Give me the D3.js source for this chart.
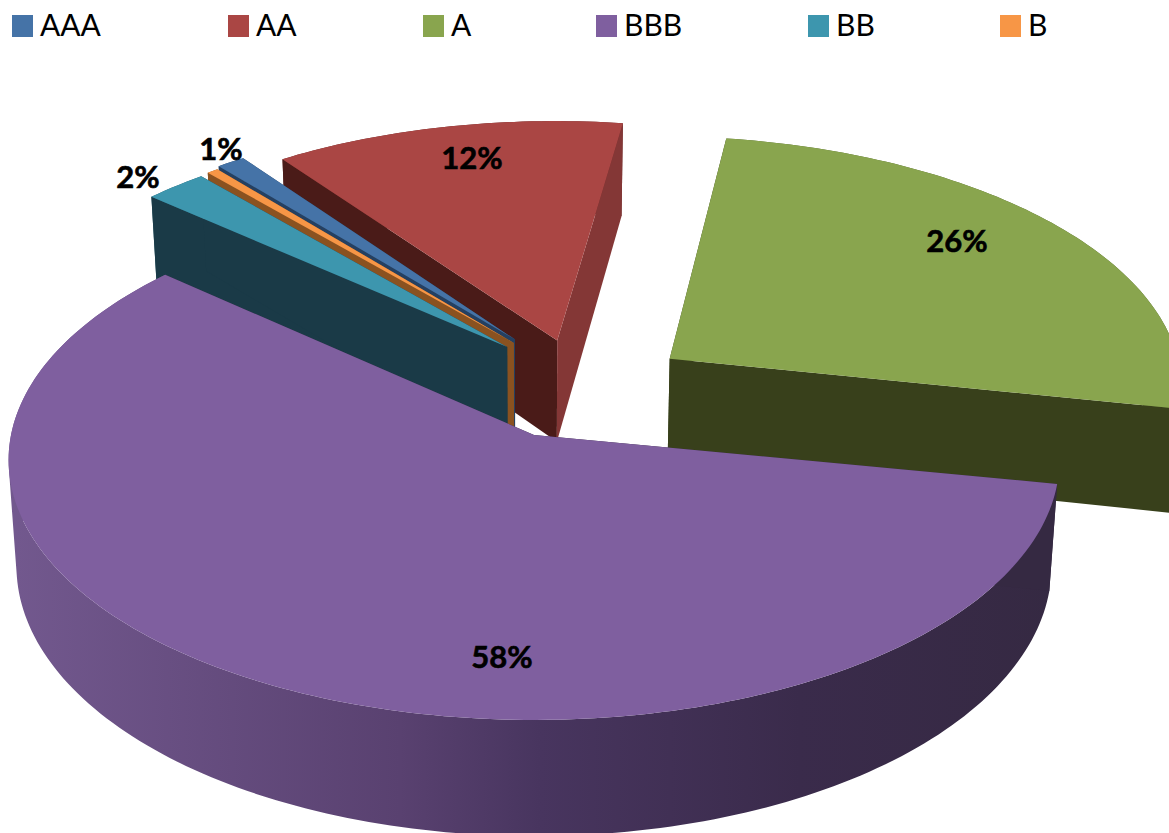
<!DOCTYPE html>
<html>
<head>
<meta charset="utf-8">
<script src="https://cdn.jsdelivr.net/npm/d3@7"></script>
<style>
	html, body { margin: 0; padding: 0; background: #fff; overflow: hidden; }
	text { font-family: Lato, sans-serif; }
</style>
</head>
<body>
<div id="chart"></div>
<script>
// ********** DATA **********
const ratings = ['AAA', 'AA', 'A', 'BBB', 'BB', 'B'];
const shares = [1, 12.2, 25.6, 58.4, 2.2, 0.4];
const shareLabels = ['1%', '12%', '26%', '58%', '2%', null];

// ********** STYLE / LAYOUT **********
const width = 1169, height = 833;
const topColors = ['#4573a7', '#aa4644', '#89a54e', '#7f5f9f', '#3d96ae', '#f79646'];
const startWallColors = ['#254061', '#4a1b18', '#38401b', '#352942', '#1a3a47', '#8a5220'];
const endWallColors = ['#254061', '#843736', '#38401b', '#352942', '#1a3a47', '#8a5220'];

// offset of each slice from the pie centre, in pie radii
const explodeU = [-0.038, 0.046, 0.267, 0, -0.053, -0.04];
const explodeV = [-0.385, -0.38, -0.305, 0, -0.353, -0.37];
// extra degrees on the far edge, the original perspective drops the A edge lower
const endNudge = [0, 0, 0.9, 0, 0, 0];

const legendSwatchX = [12, 228, 423, 596, 808, 1000];
const labelX = [221, 472, 957, 502, 138, 0];
const labelY = [160, 169, 252, 668, 188, 0];

// Painters order, back to front
const drawOrder = [1, 2, 0, 5, 4, 3];

// Projection of the pie plane onto the screen, with slight perspective
const cx = 534, cy = 435, rx = 523, ry = 257.6, persp = 0.096, depth = 105, squeeze = 0.985;

const project = (u, v, low) => {
	const w = 1 / (1 - persp * v);
	const x = rx * u * w;
	const y = ry * v * w;
	return low ? [cx + x * squeeze, cy + y + depth * w] : [cx + x, cy + y];
};

const svg = d3.select('#chart').append('svg')
	.attr('width', width)
	.attr('height', height);

// Shading of the BBB rim follows the screen position
const rimStops = [0, 400, 540, 800, 1060];
const rimColor = d3.scaleLinear()
	.domain(rimStops)
	.range(['#73598f', '#594170', '#48355f', '#3a2b4b', '#352942']);

svg.append('defs').append('linearGradient')
	.attr('id', 'rimShade')
	.attr('gradientUnits', 'userSpaceOnUse')
	.attr('x1', 0).attr('y1', 0)
	.attr('x2', 1060).attr('y2', 0)
	.selectAll('stop')
	.data(rimStops)
	.join('stop')
	.attr('offset', d => d / 1060)
	.attr('stop-color', d => rimColor(d));

const line = d3.line();

// Pie angles, 0 at north and clockwise. Turned so BBB starts just below east
const startDeg = 320.8;
const pie = d3.pie()
	.sort(null)
	.startAngle(startDeg * Math.PI / 180)
	.endAngle((startDeg + 360) * Math.PI / 180)
	.value(d => d);

const arcs = pie(shares);

const drawSlice = (i) => {
	const arc = arcs[i];
	const g = svg.append('g').attr('class', `slice slice-${ratings[i]}`);
	const ex = explodeU[i], ev = explodeV[i];
	const rim = (a, low) => project(ex + Math.sin(a), ev - Math.cos(a), low);
	const apex = (low) => project(ex, ev, low);
	const endAngle = arc.endAngle + endNudge[i] * Math.PI / 180;
	const count = Math.max(2, Math.ceil((endAngle - arc.startAngle) / 0.02));
	const steps = d3.range(count + 1)
		.map(t => arc.startAngle + (t / count) * (endAngle - arc.startAngle));

	// Outer wall: all quads in one path, same winding, so no seams and the fold does not cancel
	const wall = d3.pairs(steps).map(([a, b]) => {
		const quad = [rim(a, false), rim(b, false), rim(b, true), rim(a, true)];
		if (d3.polygonArea(quad) < 0) quad.reverse();
		return line(quad) + 'Z';
	}).join('');
	g.append('path')
		.attr('d', wall)
		.attr('fill', i === 3 ? 'url(#rimShade)' : d3.color(topColors[i]).darker(1.4));

	// Radial walls
	const startWall = [apex(false), rim(arc.startAngle, false), rim(arc.startAngle, true), apex(true)];
	const endWall = [apex(false), rim(endAngle, false), rim(endAngle, true), apex(true)];
	g.append('path').attr('d', line(startWall) + 'Z').attr('fill', startWallColors[i]);
	g.append('path').attr('d', line(endWall) + 'Z').attr('fill', endWallColors[i]);

	// Top face
	const top = [apex(false)].concat(steps.map(a => rim(a, false)));
	g.append('path').attr('d', line(top) + 'Z').attr('fill', topColors[i]);
};

drawOrder.forEach(drawSlice);

// Data labels
svg.append('g').attr('class', 'labels')
	.selectAll('text')
	.data(ratings.map((d, i) => i).filter(i => shareLabels[i]))
	.join('text')
	.attr('x', i => labelX[i])
	.attr('y', i => labelY[i])
	.attr('text-anchor', 'middle')
	.attr('font-size', 31)
	.attr('font-weight', 700)
	.attr('fill', '#000')
	.attr('stroke', '#000')
	.attr('stroke-width', 0.6)
	.text(i => shareLabels[i]);

// Legend
const legend = svg.append('g').attr('class', 'legend')
	.selectAll('g')
	.data(ratings)
	.join('g')
	.attr('transform', (d, i) => `translate(${legendSwatchX[i]}, 15)`);

legend.append('rect')
	.attr('width', 21)
	.attr('height', 22)
	.attr('fill', (d, i) => topColors[i]);

legend.append('text')
	.attr('x', 28)
	.attr('y', 21)
	.attr('font-size', 30)
	.attr('fill', '#000')
	.text(d => d);
</script>
</body>
</html>
